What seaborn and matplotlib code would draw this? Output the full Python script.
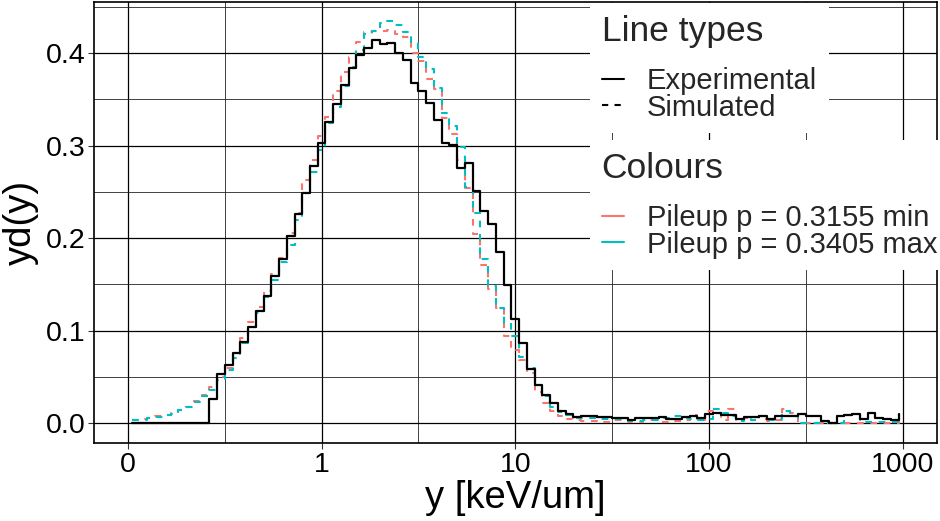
import numpy as np
import pandas as pd
import matplotlib
matplotlib.use("Agg")
import matplotlib.pyplot as plt
import seaborn as sns
from matplotlib.lines import Line2D

# ---- data -------------------------------------------------------------
# 100 logarithmic bins from 0.1 to 1000 keV/um (values plotted at bin centres)
bin_lo, bin_hi, n_bins = 0.1, 1000.0, 100

exp_vals = [0, 0, 0, 0, 0, 0, 0, 0, 0, 0,
            0.0265, 0.0535, 0.0624, 0.0754, 0.0877, 0.1035, 0.1215, 0.138, 0.159, 0.177,
            0.2025, 0.226, 0.249, 0.278, 0.3026, 0.325, 0.345, 0.365, 0.384, 0.398,
            0.405, 0.414, 0.4095, 0.4106, 0.3998, 0.393, 0.368, 0.359, 0.346, 0.328,
            0.303, 0.301, 0.276, 0.281, 0.251, 0.2298, 0.2154, 0.185, 0.149, 0.1128,
            0.087, 0.059, 0.041, 0.030, 0.022, 0.0135, 0.010, 0.0072, 0.008, 0.008,
            0.0063, 0.0065, 0.0056, 0.0055, 0.0038, 0.0055, 0.0055, 0.0056, 0.0065, 0.0045,
            0.0045, 0.0063, 0.008, 0.0056, 0.0095, 0.0106, 0.0092, 0.0088, 0.0045, 0.0063,
            0.0063, 0.0074, 0.0045, 0.0081, 0.0081, 0.0081, 0.0099, 0.0074, 0.0074, 0.002,
            0.0002, 0.0081, 0.0092, 0.0103, 0.0045, 0.011, 0.006, 0.0045, 0.0038, 0.0099]

sim_min_vals = [0.003, 0.0043, 0.006, 0.0075, 0.009, 0.011, 0.0146, 0.018, 0.0243, 0.031,
                0.039, 0.0495, 0.060, 0.0758, 0.0916, 0.109, 0.126, 0.1434, 0.161, 0.178,
                0.2054, 0.227, 0.263, 0.2845, 0.31, 0.331, 0.359, 0.380, 0.396, 0.412,
                0.423, 0.424, 0.424, 0.425, 0.421, 0.417, 0.400, 0.391, 0.372, 0.361,
                0.330, 0.312, 0.284, 0.254, 0.205, 0.171, 0.145, 0.124, 0.094, 0.079,
                0.0686, 0.054, 0.034, 0.022, 0.0127, 0.0073, 0.005, 0.003, 0.002, 0.002,
                0.0013, 0.0013, 0.003, 0.003, 0.0013, 0.0013, 0.0038, 0.0038, 0.0013, 0.0013,
                0.002, 0.003, 0.009, 0.004, 0.013, 0.011, 0.004, 0.0155, 0.004, 0.0055,
                0.0065, 0.005, 0.002, 0.004, 0.0155, 0.011, 0.0005, 0, 0, 0,
                0, 0, 0, 0, 0, 0, 0, 0, 0, 0.0118]

sim_max_vals = [0.003, 0.004, 0.0056, 0.007, 0.0085, 0.0105, 0.0146, 0.0175, 0.0225, 0.029,
                0.036, 0.047, 0.058, 0.0704, 0.0866, 0.1035, 0.119, 0.136, 0.155, 0.1737,
                0.1928, 0.2197, 0.2486, 0.272, 0.295, 0.324, 0.342, 0.364, 0.385, 0.403,
                0.421, 0.424, 0.433, 0.435, 0.430, 0.4225, 0.412, 0.396, 0.383, 0.362,
                0.335, 0.321, 0.299, 0.255, 0.227, 0.177, 0.148, 0.125, 0.108, 0.094,
                0.072, 0.0596, 0.040, 0.029, 0.018, 0.012, 0.009, 0.006, 0.0056, 0.0056,
                0.0045, 0.0045, 0.005, 0.005, 0.002, 0.002, 0.003, 0.003, 0.0056, 0.0056,
                0.008, 0.0056, 0.0045, 0.004, 0.005, 0.0153, 0.011, 0.0075, 0.002, 0.006,
                0.004, 0.0075, 0.0038, 0.0045, 0.013, 0.0075, 0.0005, 0, 0, 0,
                0, 0.0005, 0.009, 0.009, 0.001, 0.001, 0.001, 0.001, 0.001, 0.003]

x_tick_vals = [0.1, 1, 10, 100, 1000]
x_tick_labels = ["0", "1", "10", "100", "1000"]
y_tick_vals = [0.0, 0.1, 0.2, 0.3, 0.4]

series_labels = ["Pileup p = 0.3155 min", "Pileup p = 0.3405 max"]
colours = ["#F8766D", "#00BFC4"]

# bin centres
edges = np.geomspace(bin_lo, bin_hi, n_bins + 1)
centres = np.sqrt(edges[:-1] * edges[1:])

df = pd.concat([
    pd.DataFrame({"y": centres, "yd": sim_min_vals, "series": "min"}),
    pd.DataFrame({"y": centres, "yd": sim_max_vals, "series": "max"}),
    pd.DataFrame({"y": centres, "yd": exp_vals, "series": "exp"}),
])

# ---- figure -----------------------------------------------------------
sns.set_theme(style="white")
plt.rcParams["font.family"] = ["Liberation Sans", "DejaVu Sans"]

fig = plt.figure(figsize=(9.4, 5.21), dpi=100)
ax = fig.add_axes([94.3 / 940, 1 - 443.3 / 521, (936.6 - 94.3) / 940, (443.3 - 1.5) / 521])

dash = (0, (3.2, 3.2))
sns.lineplot(data=df[df.series == "min"], x="y", y="yd", ax=ax, color=colours[0],
             linestyle=dash, linewidth=1.5, drawstyle="steps-post", estimator=None,
             legend=False, zorder=3)
sns.lineplot(data=df[df.series == "max"], x="y", y="yd", ax=ax, color=colours[1],
             linestyle=dash, linewidth=1.5, drawstyle="steps-post", estimator=None,
             legend=False, zorder=3)
sns.lineplot(data=df[df.series == "exp"], x="y", y="yd", ax=ax, color="black",
             linestyle="-", linewidth=1.6, drawstyle="steps-post", estimator=None,
             legend=False, zorder=4)

ax.set_xscale("log")
ax.set_xlim(10 ** -1.174, 10 ** 3.176)
ax.set_ylim(-0.0217, 0.4557)

ax.set_xticks(x_tick_vals)
ax.set_xticklabels(x_tick_labels)
ax.set_xticks([10 ** -0.5, 10 ** 0.5, 10 ** 1.5, 10 ** 2.5], minor=True)
ax.set_yticks(y_tick_vals)
ax.set_yticklabels([f"{v:.1f}" for v in y_tick_vals])
ax.set_yticks([0.05, 0.15, 0.25, 0.35, 0.45], minor=True)
ax.tick_params(which="major", direction="out", length=4.5, width=0.8, color="#333333",
               labelsize=20.5, labelcolor="black", pad=2, bottom=True, left=True)
ax.tick_params(which="minor", length=0, labelbottom=False, labelleft=False)

ax.grid(True, which="major", color="black", linewidth=0.9)
ax.grid(True, which="minor", color="#222222", linewidth=0.6)
ax.set_axisbelow(True)
for sp in ax.spines.values():
    sp.set_color("black")
    sp.set_linewidth(1.2)
ax.set_facecolor("white")

ax.set_xlabel("y [keV/um]", fontsize=27.5, color="black", labelpad=1)
ax.set_ylabel("yd(y)", fontsize=27.5, color="black", labelpad=5)

# ---- legends ----------------------------------------------------------
leg_kw = dict(loc="upper left", frameon=True, fancybox=False, framealpha=1,
              facecolor="white", edgecolor="none", fontsize=21, title_fontsize=25.5,
              handlelength=0.75, handletextpad=0.8, labelspacing=-0.05,
              borderpad=0.4, borderaxespad=0, alignment="left")

lt_handles = [Line2D([], [], color="black", lw=1.5, ls="-"),
              Line2D([], [], color="black", lw=1.5, ls=(0, (3, 3)))]
leg1 = fig.legend(lt_handles, ["Experimental", "Simulated"], title="Line types",
                  bbox_to_anchor=(590 / 940, 1 - 3 / 521), **leg_kw)
col_handles = [Line2D([], [], color=c, lw=1.5) for c in colours]
leg2 = fig.legend(col_handles, series_labels, title="Colours",
                  bbox_to_anchor=(590 / 940, 1 - 140 / 521), **leg_kw)
for lg in (leg1, leg2):
    lg._legend_box.sep = 14
fig.add_artist(leg1)

fig.savefig("out.png", dpi=100, facecolor="white")
